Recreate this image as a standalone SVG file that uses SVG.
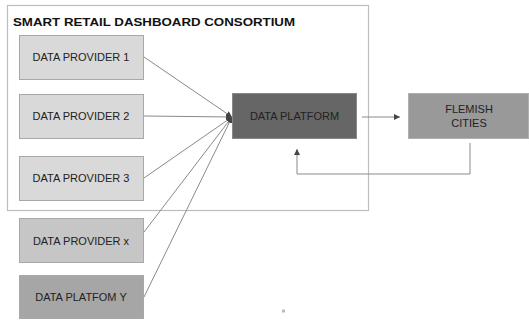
<svg xmlns="http://www.w3.org/2000/svg" width="529" height="320" viewBox="0 0 529 320">
  <style>
    .lbl { font-family: "Liberation Sans", Arial, sans-serif; font-size: 11px; fill: #222; text-anchor: middle; }
    .title { font-family: "Liberation Sans", Arial, sans-serif; font-size: 11.5px; font-weight: bold; fill: #111; }
    .box { stroke: #a8a8a8; stroke-width: 1; }
    .conn { stroke: #8a8a8a; stroke-width: 1; fill: none; }
  </style>
  <defs>
    <marker id="arrow" viewBox="0 0 8 8" refX="8" refY="4" markerWidth="6" markerHeight="6" orient="auto" markerUnits="userSpaceOnUse">
      <path d="M0,0 L8,4 L0,8 Z" fill="#444"/>
    </marker>
  </defs>
  <rect width="529" height="320" fill="#fff"/>

  <!-- consortium frame -->
  <g id="consortium">
    <rect x="7.5" y="5.5" width="361" height="205" fill="none" stroke="#bdbdbd" stroke-width="1.2"/>
    <text class="title" x="13" y="26" textLength="282" lengthAdjust="spacingAndGlyphs">SMART RETAIL DASHBOARD CONSORTIUM</text>
  </g>

  <!-- connectors -->
  <g id="connectors">
    <line class="conn" x1="144" y1="57" x2="232" y2="117" marker-end="url(#arrow)"/>
    <line class="conn" x1="144" y1="116" x2="232" y2="117" marker-end="url(#arrow)"/>
    <line class="conn" x1="144" y1="178" x2="232" y2="117" marker-end="url(#arrow)"/>
    <line class="conn" x1="144" y1="232" x2="232" y2="117" marker-end="url(#arrow)"/>
    <line class="conn" x1="144" y1="297" x2="232" y2="117" marker-end="url(#arrow)"/>
    <line class="conn" x1="362" y1="117" x2="400" y2="117" marker-end="url(#arrow)"/>
    <polyline class="conn" points="470,143 470,174 297,174 297,149" marker-end="url(#arrow)"/>
  </g>

  <g id="provider1">
    <rect class="box" x="19.5" y="35.5" width="124" height="44" fill="#d9d9d9"/>
    <text class="lbl" x="81" y="61">DATA PROVIDER 1</text>
  </g>
  <g id="provider2">
    <rect class="box" x="19.5" y="94.5" width="124" height="44" fill="#d9d9d9"/>
    <text class="lbl" x="81" y="120">DATA PROVIDER 2</text>
  </g>
  <g id="provider3">
    <rect class="box" x="19.5" y="156.5" width="124" height="44" fill="#d9d9d9"/>
    <text class="lbl" x="81" y="182">DATA PROVIDER 3</text>
  </g>
  <g id="providerx">
    <rect class="box" x="19.5" y="218.5" width="124" height="44" fill="#c6c6c6"/>
    <text class="lbl" x="81" y="245">DATA PROVIDER x</text>
  </g>
  <g id="platformy">
    <rect class="box" x="19.5" y="275.5" width="124" height="43" fill="#a6a6a6"/>
    <text class="lbl" x="81" y="301">DATA PLATFOM Y</text>
  </g>
  <g id="dataplatform">
    <rect x="232.5" y="93.5" width="124" height="45" fill="#666666" stroke="#888" stroke-width="1"/>
    <text class="lbl" x="294.5" y="120">DATA PLATFORM</text>
  </g>
  <g id="flemish">
    <rect x="408.5" y="93.5" width="120" height="45" fill="#999999" stroke="#b0b0b0" stroke-width="1"/>
    <text class="lbl" x="469" y="113">FLEMISH</text>
    <text class="lbl" x="469" y="127">CITIES</text>
  </g>

  <!-- page mark -->
  <rect x="282" y="309.5" width="3" height="3" fill="#bbb"/>
</svg>
